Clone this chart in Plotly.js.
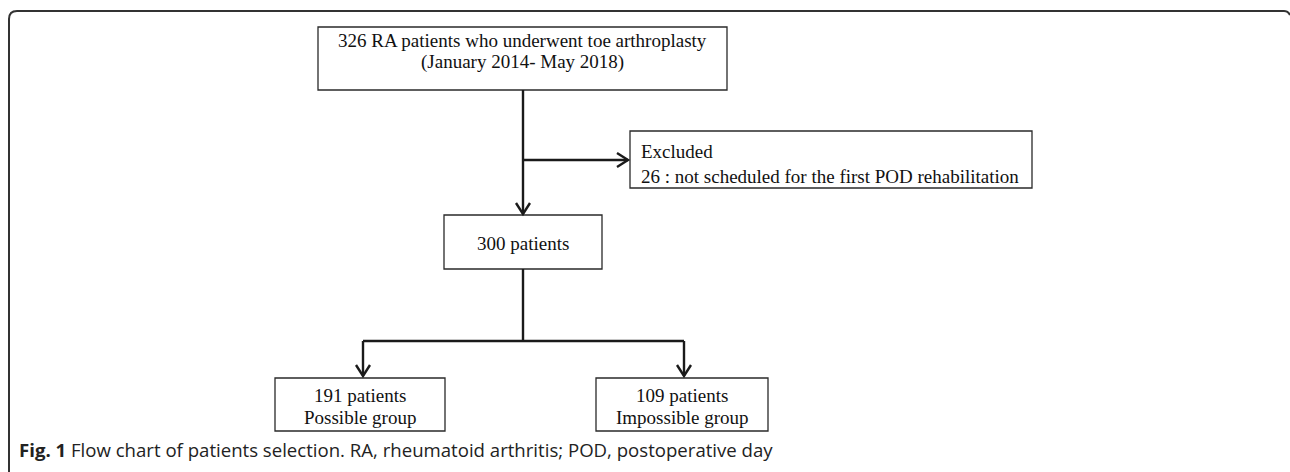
<!DOCTYPE html>
<html><head><meta charset="utf-8">
<script src="https://cdn.plot.ly/plotly-3.0.1.min.js"></script>
<style>html,body{margin:0;padding:0;background:#fff;}#chart{width:1290px;height:472px;}</style>
</head><body><div id="chart"></div>
<script>
// ---- data ----
const totalPatients = 326;
const studyPeriod = '(January 2014- May 2018)';
const excludedCount = 26;
const excludedReason = 'not scheduled for the first POD rehabilitation';
const groupNames = ['Possible group', 'Impossible group'];
const groupCounts = [191, 109];
const caption = '<b>Fig. 1</b> Flow chart of patients selection. RA, rheumatoid arthritis; POD, postoperative day';

const included = totalPatients - excludedCount;

// ---- layout geometry (pixels, y downward) ----
const boxTop = {x0: 318, x1: 727, y0: 27, y1: 90};
const boxMid = {x0: 444, x1: 602, y0: 215, y1: 269};
const boxExc = {x0: 630, x1: 1032, y0: 131, y1: 188};
const boxGroups = [{x0: 275, x1: 445, y0: 378, y1: 431}, {x0: 596, x1: 768, y0: 378, y1: 431}];
const spineX = 523, branchY = 160, splitY = 341;
const arrowXs = [363, 684];

const lineCol = '#1a1a1a', boxCol = '#2a2a2a';
const shapes = [];
const annotations = [];
function rect(b){ shapes.push({type:'rect', xref:'x', yref:'y', x0:b.x0, x1:b.x1, y0:b.y0, y1:b.y1, line:{color:boxCol, width:1.3}, fillcolor:'rgba(0,0,0,0)'}); }
function seg(x0,y0,x1,y1){ shapes.push({type:'line', xref:'x', yref:'y', x0, y0, x1, y1, line:{color:lineCol, width:2.4}}); }
function headDown(x,y){ shapes.push({type:'path', xref:'x', yref:'y', path:`M ${x-7},${y-11} L ${x},${y} L ${x+7},${y-11}`, line:{color:lineCol, width:2.4}}); }
function headRight(x,y){ shapes.push({type:'path', xref:'x', yref:'y', path:`M ${x-11},${y-7} L ${x},${y} L ${x-11},${y+7}`, line:{color:lineCol, width:2.4}}); }
const serif = {family:'"Liberation Serif", "Times New Roman", serif', size:19, color:'#111'};
function txt(x,y,t,align){ annotations.push({xref:'x', yref:'y', x, y, text:t, showarrow:false, font:serif, xanchor:align||'center', yanchor:'middle', align:align||'center'}); }

// frame
shapes.push({type:'path', xref:'x', yref:'y', path:'M 9,472 L 9,19 Q 9,11 17,11 L 1284,11 Q 1288,11 1290,15', line:{color:'#333', width:2}});

// boxes
rect(boxTop); rect(boxMid); rect(boxExc); boxGroups.forEach(rect);

// connectors
seg(spineX, boxTop.y1, spineX, boxMid.y0 - 1); headDown(spineX, boxMid.y0 - 1);
seg(spineX, branchY, boxExc.x0 - 2, branchY); headRight(boxExc.x0 - 2, branchY);
seg(spineX, boxMid.y1, spineX, splitY);
seg(arrowXs[0], splitY, arrowXs[1], splitY);
arrowXs.forEach((x,i)=>{ seg(x, splitY, x, boxGroups[i].y0 - 2); headDown(x, boxGroups[i].y0 - 2); });

// texts
txt((boxTop.x0+boxTop.x1)/2, 40, totalPatients + ' RA patients who underwent toe arthroplasty');
txt((boxTop.x0+boxTop.x1)/2, 62, studyPeriod);
txt(639, 151, 'Excluded', 'left');
txt(639, 176, excludedCount + ' : ' + excludedReason, 'left');
txt((boxMid.x0+boxMid.x1)/2, 243, included + ' patients');
boxGroups.forEach((b,i)=>{
  txt((b.x0+b.x1)/2, 395, groupCounts[i] + ' patients');
  txt((b.x0+b.x1)/2, 417, groupNames[i]);
});
annotations.push({xref:'x', yref:'y', x:17, y:449, text:caption, showarrow:false, xanchor:'left', yanchor:'middle', font:{family:'"Open Sans", sans-serif', size:18.6, color:'#222'}});

Plotly.newPlot('chart', [], {
  width:1290, height:472, margin:{l:0,r:0,t:0,b:0},
  paper_bgcolor:'#fff', plot_bgcolor:'#fff',
  xaxis:{range:[0,1290], visible:false, fixedrange:true},
  yaxis:{range:[472,0], visible:false, fixedrange:true},
  shapes, annotations, showlegend:false
}, {staticPlot:true, displayModeBar:false});
</script></body></html>
